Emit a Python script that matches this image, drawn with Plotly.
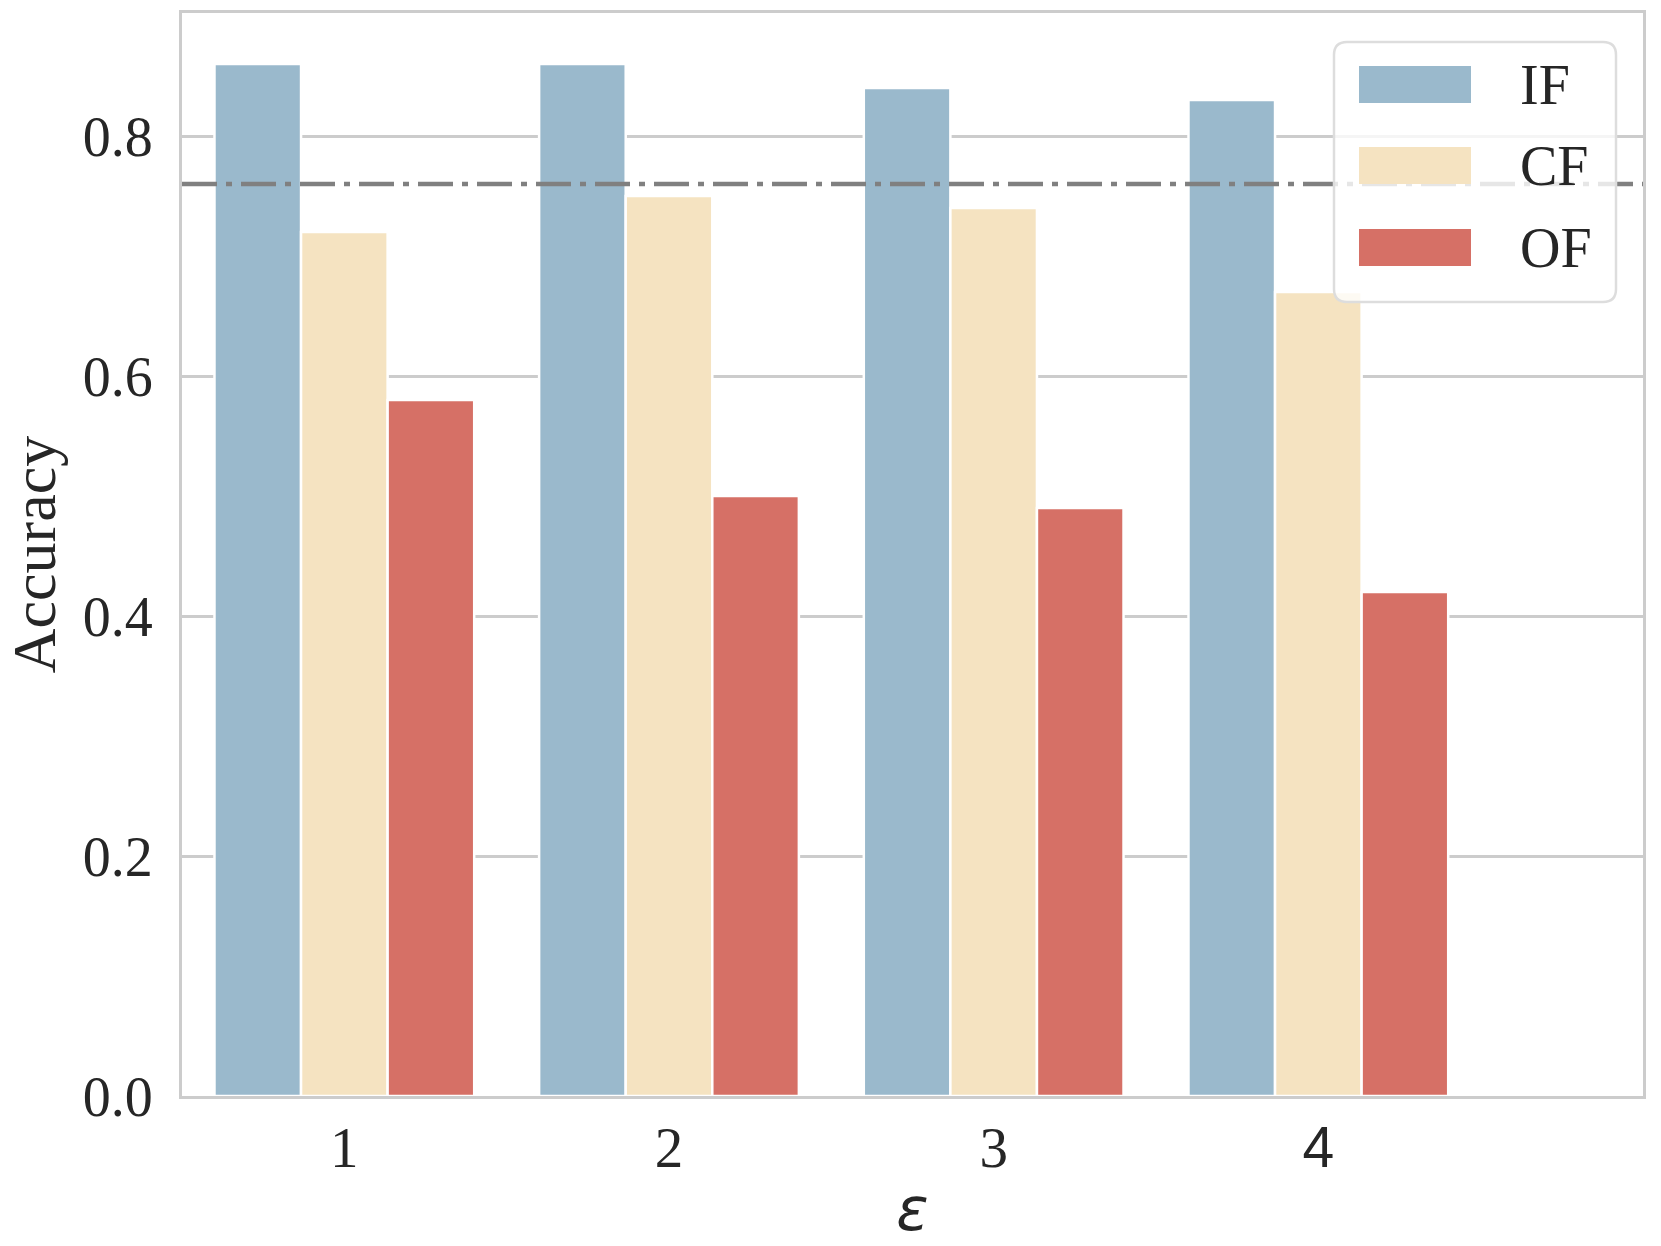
import plotly.graph_objects as go

# ---- data ----
categories = ["1", "2", "3", "4"]
series_names = ["IF", "CF", "OF"]
if_values = [0.86, 0.86, 0.84, 0.83]
cf_values = [0.72, 0.75, 0.74, 0.67]
of_values = [0.58, 0.50, 0.49, 0.42]
baseline = 0.76
y_ticks = [0.0, 0.2, 0.4, 0.6, 0.8]

colors = ["#9ab9cc", "#f5e3c1", "#d67066"]
TEXT = "#262626"
GRID = "#cccccc"
SERIF = "'Liberation Serif', 'Times New Roman', Times, serif"

W, H = 1661, 1246
L, R, T, B = 182, 1643, 13, 1096  # plot area in px


def px2x(x):
    return (x - L) / (R - L)


def px2y(y):
    return (B - y) / (B - T)


xs = list(range(len(categories)))
fig = go.Figure()
for name, vals, col in zip(series_names, [if_values, cf_values, of_values], colors):
    fig.add_trace(go.Bar(
        x=xs, y=vals, name=name, showlegend=False,
        marker=dict(color=col, line=dict(color="white", width=2.5)),
    ))

ticktext = categories[:-1] + ["<span style=\"font-family:'Liberation Sans'\">%s</span>" % categories[-1]]

fig.update_layout(
    width=W, height=H,
    margin=dict(l=L, r=W - R, t=T, b=H - B, pad=0, autoexpand=False),
    paper_bgcolor="white", plot_bgcolor="white",
    barmode="group", bargap=0.2, bargroupgap=0,
    font=dict(family=SERIF, color=TEXT, size=56),
    xaxis=dict(
        range=[-0.5, 4.0], tickmode="array", tickvals=xs, ticktext=ticktext,
        showgrid=False, zeroline=False, showline=True, mirror=True,
        linecolor=GRID, linewidth=3, ticks="",
        tickfont=dict(family=SERIF, size=57, color=TEXT),
        ticklabelstandoff=0,
        title=dict(text="<i>ε</i>", font=dict(family="DejaVu Sans", size=60, color=TEXT), standoff=10),
    ),
    yaxis=dict(
        range=[0, 0.9025], tickmode="array", tickvals=y_ticks, tickformat=".1f",
        showgrid=True, gridcolor=GRID, gridwidth=2.5, zeroline=False,
        showline=True, mirror=True, linecolor=GRID, linewidth=3, ticks="",
        tickfont=dict(family=SERIF, size=56, color=TEXT),
        ticklabelstandoff=15,
        title=dict(text="Accuracy", font=dict(family=SERIF, size=62, color=TEXT), standoff=23),
    ),
)

# dash-dot reference line
fig.add_shape(type="line", xref="x domain", x0=0, x1=1, yref="y", y0=baseline, y1=baseline,
              line=dict(color="#808080", width=4.5, dash="35px,9px,6px,9px"), layer="above")

# custom legend box with rounded corners
bx0, bx1, by0, by1, rr = 1334, 1616, 42, 302, 13
rx = rr / (R - L)
ry = rr / (B - T)
X0, X1, Y0, Y1 = px2x(bx0), px2x(bx1), px2y(by1), px2y(by0)
path = (f"M{X0 + rx},{Y0} L{X1 - rx},{Y0} Q{X1},{Y0} {X1},{Y0 + ry} "
        f"L{X1},{Y1 - ry} Q{X1},{Y1} {X1 - rx},{Y1} "
        f"L{X0 + rx},{Y1} Q{X0},{Y1} {X0},{Y1 - ry} "
        f"L{X0},{Y0 + ry} Q{X0},{Y0} {X0 + rx},{Y0} Z")
fig.add_shape(type="path", xref="paper", yref="paper", path=path,
              fillcolor="rgba(255,255,255,0.8)", line=dict(color="#dddddd", width=2.5), layer="above")

patch_tops = [66, 147, 229]
for name, col, top in zip(series_names, colors, patch_tops):
    fig.add_shape(type="rect", xref="paper", yref="paper",
                  x0=px2x(1359), x1=px2x(1471), y0=px2y(top + 37), y1=px2y(top),
                  fillcolor=col, line=dict(width=0), layer="above")
    fig.add_annotation(xref="paper", yref="paper", x=px2x(1518), y=px2y(top + 18.5),
                       xanchor="left", yanchor="middle", text=name, showarrow=False,
                       font=dict(family=SERIF, size=56, color=TEXT))

fig.write_html("out.html", config={"displayModeBar": False},
               post_script="document.body.style.margin='0';")
